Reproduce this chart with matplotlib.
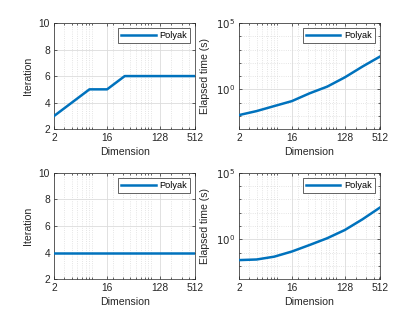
import numpy as np
import matplotlib.pyplot as plt
from matplotlib.ticker import FixedLocator, NullFormatter

plt.rcParams['font.family'] = ['Liberation Sans', 'DejaVu Sans']

# --- Data ---
dims = [2, 4, 8, 16, 32, 64, 128, 256, 512]
iter_top = [3, 4, 5, 5, 6, 6, 6, 6, 6]
time_top = [0.0115, 0.023, 0.055, 0.13, 0.5, 1.6, 8, 52, 300]
iter_bot = [4, 4, 4, 4, 4, 4, 4, 4, 4]
time_bot = [0.027, 0.03, 0.049, 0.12, 0.37, 1.2, 5, 32, 250]

xticks = [2, 16, 128, 512]
xtick_labels = ['2', '16', '128', '512']

blue = '#0072BD'
grid_col = '#dcdcdc'
ink = '#262626'

fig = plt.figure(figsize=(4.2, 3.15), dpi=100, facecolor='white')

left_x, right_x = 0.129, 0.569
top_y, bot_y = 0.59, 0.114
w, h = 0.336, 0.337

panels = [
    (left_x, top_y, iter_top, 'Iteration', False),
    (right_x, top_y, time_top, 'Elapsed time (s)', True),
    (left_x, bot_y, iter_bot, 'Iteration', False),
    (right_x, bot_y, time_bot, 'Elapsed time (s)', True),
]

minor_x = [m * 10**k for k in range(0, 3) for m in range(2, 10)]
minor_x = [v for v in minor_x if 2 < v < 512 and v not in (16, 128)]

for x0, y0, ys, ylab, is_log in panels:
    ax = fig.add_axes([x0, y0, w, h])
    ax.plot(dims, ys, color=blue, linewidth=1.8, label='Polyak', zorder=3)
    ax.set_xscale('log')
    ax.set_xlim(2, 512)
    ax.xaxis.set_major_locator(FixedLocator(xticks))
    ax.set_xticklabels(xtick_labels)
    ax.xaxis.set_minor_locator(FixedLocator(minor_x))
    ax.xaxis.set_minor_formatter(NullFormatter())

    if is_log:
        ax.set_yscale('log')
        ax.set_ylim(1e-3, 1e5)
        ax.yaxis.set_major_locator(FixedLocator([1e0, 1e5]))
        ax.set_yticklabels(['$10^{0}$', '$10^{5}$'])
        ax.yaxis.set_minor_locator(FixedLocator([1e-2, 1e-1, 1e1, 1e2, 1e3, 1e4]))
        ax.yaxis.set_minor_formatter(NullFormatter())
        ax.grid(True, which='minor', axis='y', color=grid_col, linestyle=':', linewidth=0.6)
    else:
        ax.set_ylim(2, 10)
        ax.set_yticks([2, 4, 6, 8, 10])

    ax.grid(True, which='major', color=grid_col, linestyle='-', linewidth=0.6)
    ax.grid(True, which='minor', axis='x', color=grid_col, linestyle=':', linewidth=0.6)
    ax.set_axisbelow(True)

    ax.tick_params(which='both', direction='in', top=True, right=True,
                   labelsize=7.4, colors=ink, length=2.5, width=0.5, pad=3)
    ax.tick_params(which='minor', length=1.5)
    for s in ax.spines.values():
        s.set_color(ink)
        s.set_linewidth(0.5)

    ax.set_xlabel('Dimension', fontsize=7.6, color=ink, labelpad=2.5)
    ax.set_ylabel(ylab, fontsize=7.6, color=ink, labelpad=4)

    leg = ax.legend(loc='upper right', fontsize=6.6, frameon=True, fancybox=False,
                    handlelength=3.8, borderpad=0.3, borderaxespad=0.6,
                    handletextpad=0.4)
    leg.get_frame().set_edgecolor(ink)
    leg.get_frame().set_linewidth(0.5)
    leg.get_frame().set_alpha(1)

fig.savefig('out.png', dpi=100, facecolor='white')
